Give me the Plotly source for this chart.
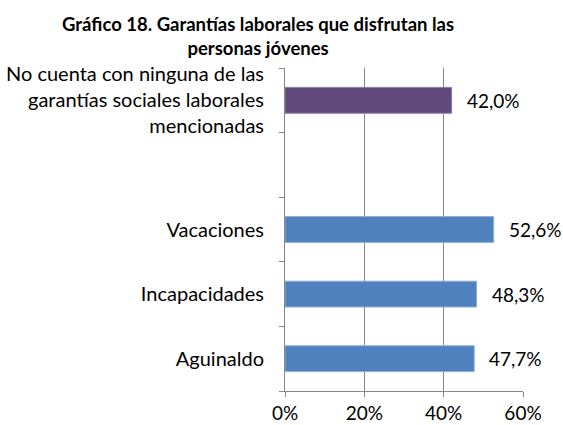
import plotly.graph_objects as go

categories = ["Aguinaldo", "Incapacidades", "Vacaciones", " ",
              "No cuenta con ninguna de las<br>garantías sociales laborales<br>mencionadas"]
bar_cats_blue = ["Aguinaldo", "Incapacidades", "Vacaciones"]
values_blue = [47.7, 48.3, 52.6]
bar_cats_purple = ["No cuenta con ninguna de las<br>garantías sociales laborales<br>mencionadas"]
values_purple = [42.0]
x_ticks = [0, 20, 40, 60]
x_tick_labels = ["0%", "20%", "40%", "60%"]
title = "<b>Gráfico 18. Garantías laborales que disfrutan las<br>personas jóvenes</b>"

FONT = "Lato, Open Sans, sans-serif"
PLOT_H = 425 - 68 - 34

fig = go.Figure()
fig.add_trace(go.Bar(y=bar_cats_blue, x=values_blue, orientation="h",
                     marker=dict(color="#4F81BD", line=dict(color="#8DB0DB", width=1)),
                     hoverinfo="skip"))
fig.add_trace(go.Bar(y=bar_cats_purple, x=values_purple, orientation="h",
                     marker=dict(color="#604A7B", line=dict(color="#8C7AA3", width=1)),
                     hoverinfo="skip"))

for c, v in list(zip(bar_cats_blue, values_blue)) + list(zip(bar_cats_purple, values_purple)):
    fig.add_annotation(x=v, y=c, text=f"{v:.1f}%".replace(".", ","),
                       showarrow=False, xanchor="left", xshift=13,
                       font=dict(size=19, color="#000000", family=FONT))

fig.add_annotation(text=title, xref="paper", yref="paper",
                   x=(258 - 285) / 238, xanchor="center",
                   y=1 + (68 - 11) / PLOT_H, yanchor="top",
                   showarrow=False, align="center",
                   font=dict(size=18.5, color="#000000", family=FONT))

fig.update_layout(
    width=563, height=425,
    paper_bgcolor="white", plot_bgcolor="white",
    showlegend=False,
    barmode="overlay",
    bargap=0.6,
    margin=dict(l=285, r=40, t=68, b=34),
    font=dict(family=FONT, size=19, color="#000000"),
)
fig.update_xaxes(range=[0, 60], tickvals=x_ticks, ticktext=x_tick_labels,
                 showgrid=True, gridcolor="#868686", gridwidth=1,
                 showline=True, linecolor="#868686", linewidth=1,
                 ticks="outside", ticklen=5, tickcolor="#868686",
                 zeroline=False, automargin=False, tickfont=dict(size=19, family=FONT))
fig.update_yaxes(type="category", categoryorder="array", categoryarray=categories,
                 range=[-0.5, 4.5], automargin=False,
                 showline=True, linecolor="#868686", linewidth=1,
                 ticks="outside", ticklen=5, tickcolor="#868686",
                 tickson="boundaries", showgrid=False, ticklabelstandoff=16,
                 tickfont=dict(size=20, family=FONT))

fig.write_html("out.html", config={"displayModeBar": False},
               post_script="document.body.style.margin='0';document.body.style.overflow='hidden';")
